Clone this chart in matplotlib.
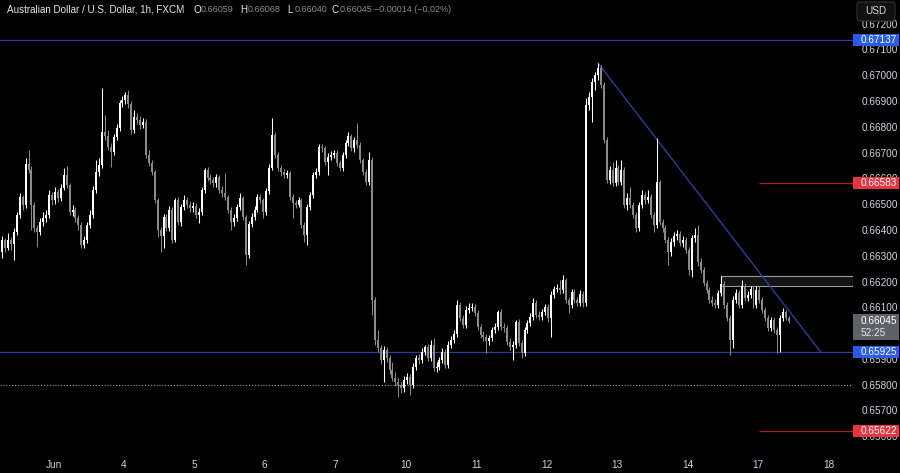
import matplotlib
matplotlib.use("Agg")
import matplotlib.pyplot as plt
from matplotlib.patches import Rectangle, FancyBboxPatch
from matplotlib.transforms import blended_transform_factory
import numpy as np

plt.rcParams['font.family'] = ['Liberation Sans', 'DejaVu Sans']

# ---------------- data ----------------
first_open = 0.66314
closes = [
    0.66361, 0.66330, 0.66361, 0.66345, 0.66392, 0.66458, 0.66528, 0.66497, 0.66656, 0.66632,
    0.66497, 0.66407, 0.66392, 0.66431, 0.66446, 0.66458, 0.66535, 0.66516, 0.66547, 0.66524,
    0.66563, 0.66613, 0.66574, 0.66469, 0.66477, 0.66446, 0.66419, 0.66341, 0.66361, 0.66419,
    0.66458, 0.66555, 0.66625, 0.66652, 0.66780, 0.66764, 0.66722, 0.66702, 0.66760, 0.66795,
    0.66892, 0.66904, 0.66923, 0.66889, 0.66788, 0.66838, 0.66826, 0.66807, 0.66819, 0.66691,
    0.66660, 0.66625, 0.66516, 0.66400, 0.66376, 0.66450, 0.66407, 0.66477, 0.66361, 0.66516,
    0.66431, 0.66489, 0.66516, 0.66497, 0.66485, 0.66493, 0.66458, 0.66469, 0.66555, 0.66632,
    0.66601, 0.66594, 0.66582, 0.66605, 0.66555, 0.66543, 0.66528, 0.66477, 0.66431, 0.66446,
    0.66489, 0.66524, 0.66450, 0.66303, 0.66423, 0.66450, 0.66477, 0.66528, 0.66516, 0.66469,
    0.66551, 0.66640, 0.66768, 0.66691, 0.66640, 0.66625, 0.66613, 0.66621, 0.66528, 0.66504,
    0.66497, 0.66516, 0.66419, 0.66380, 0.66489, 0.66535, 0.66613, 0.66625, 0.66722, 0.66718,
    0.66663, 0.66683, 0.66691, 0.66698, 0.66660, 0.66640, 0.66691, 0.66737, 0.66764, 0.66718,
    0.66749, 0.66729, 0.66671, 0.66625, 0.66586, 0.66671, 0.66128, 0.65973, 0.65942, 0.65895,
    0.65934, 0.65903, 0.65856, 0.65825, 0.65810, 0.65798, 0.65787, 0.65818, 0.65829, 0.65798,
    0.65868, 0.65903, 0.65895, 0.65926, 0.65946, 0.65903, 0.65953, 0.65864, 0.65868, 0.65895,
    0.65926, 0.65876, 0.65953, 0.65973, 0.65996, 0.66109, 0.66058, 0.66031, 0.66089, 0.66097,
    0.66101, 0.66078, 0.66023, 0.65992, 0.65984, 0.65969, 0.65981, 0.66012, 0.66023, 0.66081,
    0.66023, 0.66019, 0.65965, 0.65946, 0.65953, 0.66043, 0.65961, 0.65922, 0.66012, 0.66039,
    0.66062, 0.66116, 0.66070, 0.66062, 0.66081, 0.66101, 0.66058, 0.66147, 0.66171, 0.66175,
    0.66167, 0.66206, 0.66128, 0.66109, 0.66159, 0.66128, 0.66116, 0.66151, 0.66116, 0.66885,
    0.66916, 0.66974, 0.67001, 0.67028, 0.66962, 0.66749, 0.66594, 0.66632, 0.66582, 0.66640,
    0.66586, 0.66632, 0.66497, 0.66524, 0.66497, 0.66458, 0.66407, 0.66497, 0.66535, 0.66516,
    0.66528, 0.66458, 0.66419, 0.66586, 0.66431, 0.66407, 0.66361, 0.66314, 0.66353, 0.66376,
    0.66384, 0.66349, 0.66361, 0.66322, 0.66244, 0.66369, 0.66380, 0.66275, 0.66244, 0.66194,
    0.66167, 0.66128, 0.66116, 0.66109, 0.66155, 0.66190, 0.66109, 0.66058, 0.65973, 0.66128,
    0.66155, 0.66109, 0.66182, 0.66136, 0.66147, 0.66171, 0.66109, 0.66167, 0.66128, 0.66089,
    0.66058, 0.66019, 0.66050, 0.66012, 0.65992, 0.66058, 0.66081, 0.66059, 0.66045,
]
highs = [
    0.66376, 0.66369, 0.66388, 0.66372, 0.66407, 0.66469, 0.66543, 0.66535, 0.66679, 0.66710,
    0.66648, 0.66508, 0.66419, 0.66446, 0.66469, 0.66477, 0.66555, 0.66547, 0.66566, 0.66559,
    0.66578, 0.66640, 0.66648, 0.66582, 0.66497, 0.66489, 0.66458, 0.66431, 0.66376, 0.66431,
    0.66477, 0.66570, 0.66671, 0.66679, 0.66951, 0.66846, 0.66788, 0.66737, 0.66772, 0.66811,
    0.66904, 0.66920, 0.66935, 0.66943, 0.66900, 0.66865, 0.66854, 0.66842, 0.66834, 0.66830,
    0.66710, 0.66671, 0.66632, 0.66524, 0.66411, 0.66462, 0.66462, 0.66493, 0.66489, 0.66524,
    0.66528, 0.66500, 0.66535, 0.66528, 0.66512, 0.66508, 0.66504, 0.66485, 0.66566, 0.66640,
    0.66644, 0.66617, 0.66605, 0.66617, 0.66613, 0.66570, 0.66621, 0.66535, 0.66489, 0.66462,
    0.66500, 0.66543, 0.66532, 0.66458, 0.66434, 0.66466, 0.66493, 0.66539, 0.66539, 0.66524,
    0.66563, 0.66656, 0.66834, 0.66780, 0.66702, 0.66652, 0.66636, 0.66632, 0.66629, 0.66539,
    0.66516, 0.66528, 0.66524, 0.66431, 0.66500, 0.66547, 0.66625, 0.66640, 0.66733, 0.66733,
    0.66726, 0.66698, 0.66706, 0.66710, 0.66710, 0.66671, 0.66702, 0.66749, 0.66780, 0.66772,
    0.66760, 0.66815, 0.66741, 0.66679, 0.66636, 0.66702, 0.66683, 0.66140, 0.66012, 0.65953,
    0.65950, 0.65946, 0.65915, 0.65887, 0.65849, 0.65825, 0.65810, 0.65833, 0.65845, 0.65841,
    0.65884, 0.65915, 0.65919, 0.65942, 0.65953, 0.65957, 0.65973, 0.65981, 0.65887, 0.65907,
    0.65942, 0.65938, 0.65969, 0.65988, 0.66012, 0.66128, 0.66120, 0.66070, 0.66105, 0.66116,
    0.66116, 0.66112, 0.66089, 0.66035, 0.66008, 0.65996, 0.65992, 0.66023, 0.66039, 0.66089,
    0.66093, 0.66039, 0.66031, 0.65981, 0.65969, 0.66050, 0.66054, 0.65973, 0.66023, 0.66050,
    0.66078, 0.66136, 0.66128, 0.66085, 0.66093, 0.66112, 0.66112, 0.66163, 0.66182, 0.66190,
    0.66206, 0.66225, 0.66213, 0.66140, 0.66171, 0.66171, 0.66140, 0.66167, 0.66163, 0.66912,
    0.66935, 0.66989, 0.67013, 0.67048, 0.67040, 0.66974, 0.66760, 0.66648, 0.66663, 0.66671,
    0.66652, 0.66671, 0.66644, 0.66543, 0.66566, 0.66508, 0.66469, 0.66508, 0.66555, 0.66547,
    0.66555, 0.66539, 0.66469, 0.66757, 0.66594, 0.66442, 0.66419, 0.66372, 0.66369, 0.66392,
    0.66400, 0.66396, 0.66376, 0.66372, 0.66334, 0.66380, 0.66407, 0.66419, 0.66291, 0.66256,
    0.66206, 0.66178, 0.66144, 0.66132, 0.66167, 0.66221, 0.66202, 0.66120, 0.66070, 0.66144,
    0.66171, 0.66167, 0.66206, 0.66194, 0.66163, 0.66182, 0.66182, 0.66182, 0.66182, 0.66140,
    0.66101, 0.66070, 0.66062, 0.66062, 0.66023, 0.66070, 0.66097, 0.66089, 0.66068,
]
lows = [
    0.66291, 0.66314, 0.66322, 0.66322, 0.66283, 0.66380, 0.66446, 0.66477, 0.66485, 0.66621,
    0.66400, 0.66392, 0.66334, 0.66380, 0.66415, 0.66431, 0.66446, 0.66497, 0.66500, 0.66508,
    0.66512, 0.66555, 0.66563, 0.66458, 0.66454, 0.66431, 0.66400, 0.66330, 0.66330, 0.66349,
    0.66407, 0.66446, 0.66543, 0.66609, 0.66640, 0.66749, 0.66710, 0.66644, 0.66691, 0.66749,
    0.66784, 0.66877, 0.66889, 0.66873, 0.66772, 0.66776, 0.66811, 0.66792, 0.66795, 0.66679,
    0.66648, 0.66613, 0.66504, 0.66372, 0.66314, 0.66330, 0.66396, 0.66396, 0.66349, 0.66353,
    0.66419, 0.66415, 0.66477, 0.66485, 0.66469, 0.66469, 0.66446, 0.66427, 0.66458, 0.66543,
    0.66590, 0.66578, 0.66566, 0.66566, 0.66543, 0.66528, 0.66516, 0.66466, 0.66400, 0.66415,
    0.66434, 0.66477, 0.66438, 0.66264, 0.66291, 0.66411, 0.66438, 0.66469, 0.66504, 0.66446,
    0.66458, 0.66539, 0.66632, 0.66679, 0.66629, 0.66609, 0.66601, 0.66601, 0.66516, 0.66446,
    0.66485, 0.66489, 0.66407, 0.66353, 0.66341, 0.66477, 0.66524, 0.66601, 0.66613, 0.66702,
    0.66652, 0.66613, 0.66671, 0.66679, 0.66648, 0.66629, 0.66629, 0.66679, 0.66726, 0.66706,
    0.66702, 0.66718, 0.66660, 0.66613, 0.66574, 0.66574, 0.66070, 0.65953, 0.65926, 0.65880,
    0.65810, 0.65887, 0.65841, 0.65814, 0.65794, 0.65752, 0.65767, 0.65771, 0.65802, 0.65759,
    0.65787, 0.65856, 0.65880, 0.65884, 0.65915, 0.65891, 0.65891, 0.65853, 0.65849, 0.65856,
    0.65884, 0.65864, 0.65864, 0.65942, 0.65961, 0.65984, 0.66047, 0.66019, 0.66019, 0.66078,
    0.66085, 0.66066, 0.66012, 0.65981, 0.65969, 0.65922, 0.65953, 0.65969, 0.66000, 0.66012,
    0.66012, 0.66004, 0.65953, 0.65934, 0.65895, 0.65942, 0.65950, 0.65903, 0.65911, 0.66000,
    0.66027, 0.66050, 0.66058, 0.66050, 0.66050, 0.66070, 0.66043, 0.65984, 0.66136, 0.66159,
    0.66151, 0.66155, 0.66116, 0.66078, 0.66097, 0.66116, 0.66105, 0.66105, 0.66101, 0.66105,
    0.66865, 0.66819, 0.66943, 0.66982, 0.66951, 0.66737, 0.66582, 0.66578, 0.66570, 0.66570,
    0.66574, 0.66574, 0.66485, 0.66477, 0.66485, 0.66446, 0.66392, 0.66396, 0.66485, 0.66500,
    0.66504, 0.66446, 0.66392, 0.66407, 0.66419, 0.66392, 0.66349, 0.66264, 0.66299, 0.66338,
    0.66361, 0.66338, 0.66334, 0.66310, 0.66225, 0.66217, 0.66353, 0.66260, 0.66233, 0.66182,
    0.66155, 0.66116, 0.66105, 0.66097, 0.66097, 0.66144, 0.66097, 0.66047, 0.65915, 0.65942,
    0.66116, 0.66097, 0.66097, 0.66124, 0.66124, 0.66136, 0.66097, 0.66097, 0.66116, 0.66078,
    0.66047, 0.66008, 0.66008, 0.66000, 0.65922, 0.65926, 0.66047, 0.66050, 0.66040,
]

day_labels = ["Jun", "4", "5", "6", "7", "10", "11", "12", "13", "14", "17", "18"]
price_ticks = [0.672, 0.671, 0.670, 0.669, 0.668, 0.667, 0.666, 0.665, 0.664,
               0.663, 0.662, 0.661, 0.660, 0.659, 0.658, 0.657, 0.656]

blue_levels = [0.67137, 0.65925]
red_levels = [0.66583, 0.65622]
dotted_level = 0.65800
zone_low, zone_high = 0.66181, 0.66220
trend_x = [203, 279]
trend_y = [0.67048, 0.65925]
last_close = 0.66045
countdown = "52:25"
symbol = "Australian Dollar / U.S. Dollar, 1h, FXCM"
ohlc_labels = ["O", "H", "L", "C"]
ohlc_values = ["0.66059", "0.66068", "0.66040", "0.66045"]
change_text = "\u22120.00014 (\u22120.02%)"

# ---------------- layout ----------------
W, H = 900, 473
PW, PH = 853, 447
XMIN, XMAX = -0.716, 289.9
YMIN, YMAX = 0.65558, 0.67292
PX = (YMAX - YMIN) / PH  # price per pixel

BG = "#000000"
UP = "#ffffff"
DOWN = "#8a8a8a"
TXT = "#d1d4dc"
BLUE_LINE = "#2c3d9c"
RED_LINE = "#a3232d"

fig = plt.figure(figsize=(W / 100, H / 100), dpi=100, facecolor=BG)
ax = fig.add_axes([0, 1 - PH / H, PW / W, PH / H])
ax.set_facecolor(BG)
ax.set_xlim(XMIN, XMAX)
ax.set_ylim(YMIN, YMAX)
for s in ax.spines.values():
    s.set_visible(False)

n = len(closes)
x = np.arange(n)
c = np.array(closes)
o = np.array([first_open] + closes[:-1])
h = np.maximum(np.array(highs), np.maximum(o, c))
l = np.minimum(np.array(lows), np.minimum(o, c))
up = c >= o
cols = np.where(up, UP, DOWN)

ax.vlines(x, l, h, colors=cols, linewidth=0.75, zorder=4)
body_lo = np.minimum(o, c)
body_h = np.maximum(np.abs(c - o), PX * 0.9)
ax.bar(x, body_h, bottom=body_lo, width=0.68, color=cols, linewidth=0, zorder=5)

# levels
for p in blue_levels:
    ax.axhline(p, color=BLUE_LINE, lw=0.9, zorder=2)
for p in red_levels:
    ax.hlines(p, 258, XMAX, color=RED_LINE, lw=0.9, zorder=2)
ax.axhline(dotted_level, color="#9a9a9a", lw=0.8, linestyle=(0, (1, 1.6)), zorder=2)
ax.add_patch(Rectangle((245, zone_low), XMAX - 245, zone_high - zone_low,
                       facecolor="#151515", edgecolor="#9a9a9a", lw=0.8, zorder=1.5))
ax.plot(trend_x, trend_y, color=BLUE_LINE, lw=1.0, zorder=3)

# axes ticks
ax.yaxis.tick_right()
ax.set_yticks(price_ticks)
ax.set_yticklabels([f"{p:.5f}" for p in price_ticks])
ax.tick_params(axis="y", length=0, pad=6.0, labelcolor=TXT, labelsize=7.2)
ax.set_xticks([17.5 + 24 * k for k in range(len(day_labels))])
ax.set_xticklabels(day_labels)
ax.tick_params(axis="x", length=0, pad=9, labelcolor=TXT, labelsize=7.2)

# price badges
trans = blended_transform_factory(fig.transFigure, ax.transData)
def badge(p, fc, label, half=6):
    ax.add_patch(Rectangle((PW / W, p - half * PX), 46 / W, 2 * half * PX,
                           transform=trans, clip_on=False, facecolor=fc,
                           edgecolor="none", zorder=10))
    ax.text(860.5 / W, p, label, transform=trans, clip_on=False, ha="left",
            va="center", color="white", fontsize=7.2, zorder=11)

badge(blue_levels[0], "#2a5bea", f"{blue_levels[0]:.5f}")
badge(blue_levels[1], "#2a5bea", f"{blue_levels[1]:.5f}")
badge(red_levels[0], "#e8343f", f"{red_levels[0]:.5f}")
badge(red_levels[1], "#e8343f", f"{red_levels[1]:.5f}")
# current price badge (two lines: price, then bar countdown)
ax.add_patch(Rectangle((PW / W, last_close - 19 * PX), 46 / W, 26 * PX,
                       transform=trans, clip_on=False, facecolor="#5f6068",
                       edgecolor="none", zorder=10))
ax.text(860.5 / W, last_close, f"{last_close:.5f}", transform=trans,
        clip_on=False, ha="left", va="center", color="white", fontsize=7.2, zorder=11)
ax.text(860.5 / W, last_close - 11.5 * PX, countdown, transform=trans,
        clip_on=False, ha="left", va="center", color="#e6e6e6", fontsize=7.2, zorder=11)

# overlay in pixel coordinates for header and USD button
ov = fig.add_axes([0, 0, 1, 1], zorder=20)
ov.set_xlim(0, W)
ov.set_ylim(H, 0)
ov.axis("off")
ov.patch.set_alpha(0)
ov.add_patch(FancyBboxPatch((857, 2), 38, 19, boxstyle="round,pad=0,rounding_size=3",
                            facecolor="#111111", edgecolor="#333333", lw=0.8))
ov.text(876, 11.5, "USD", ha="center", va="center", color=TXT, fontsize=7.2)

ov.text(7, 10, symbol, ha="left", va="center", color="#e8e8e8", fontsize=7.1)
lab_x = [193, 240, 287, 332]
for lx, lab, val in zip(lab_x, ohlc_labels, ohlc_values):
    ov.text(lx, 10, lab, ha="left", va="center", color="#e8e8e8", fontsize=7.1)
    ov.text(lx + 7.5, 10, val, ha="left", va="center", color="#8f8f8f", fontsize=6.5)
ov.text(374, 10, change_text, ha="left", va="center", color="#8f8f8f", fontsize=6.5)

fig.savefig("out.png", dpi=100, facecolor=BG)
